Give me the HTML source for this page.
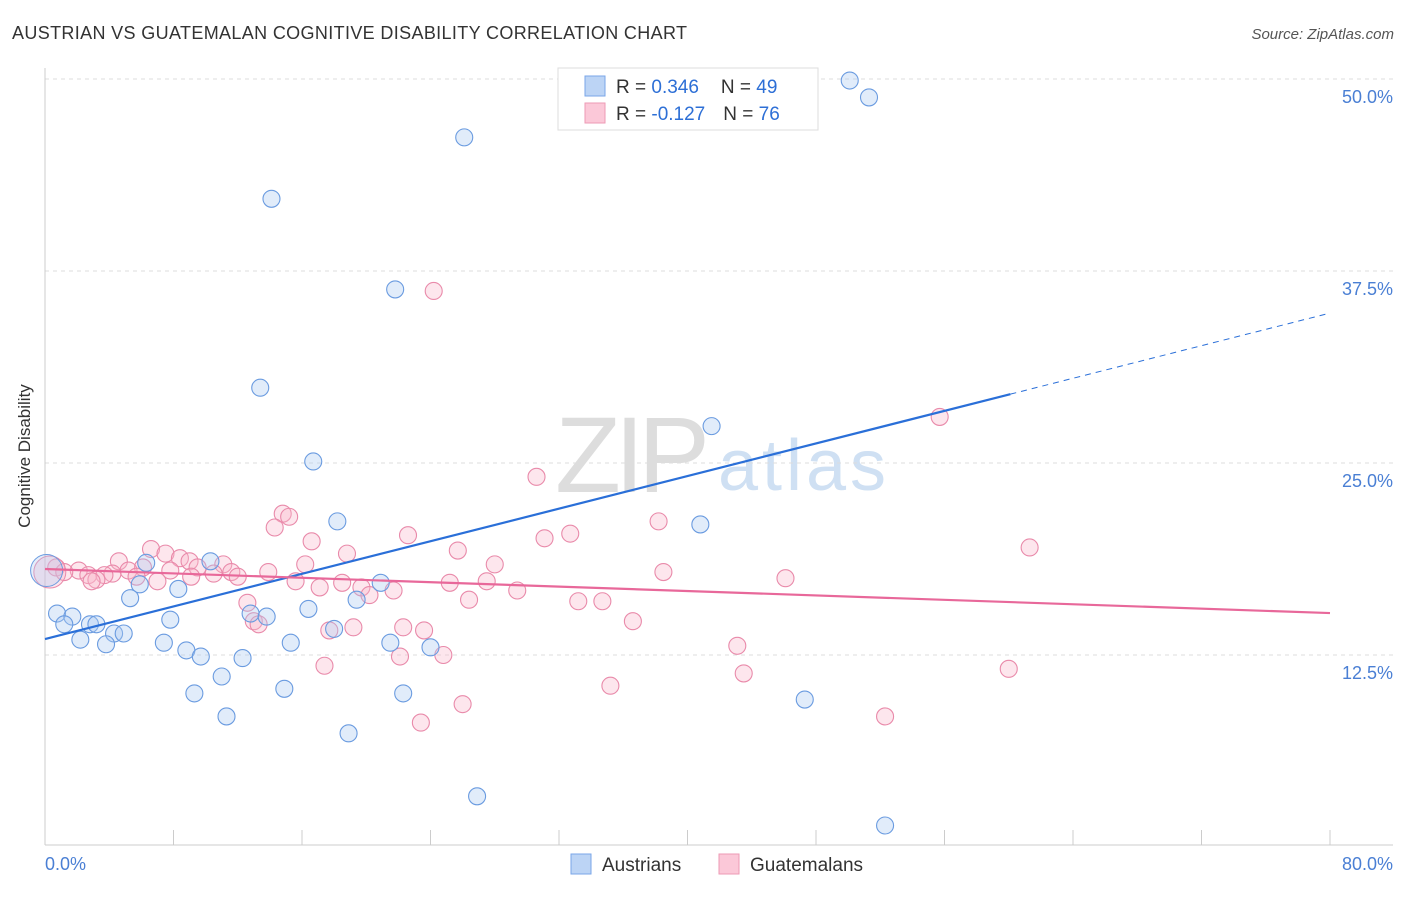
<!DOCTYPE html>
<html><head><meta charset="utf-8"><style>
body{margin:0;background:#fff;font-family:"Liberation Sans",sans-serif}
svg text{font-family:"Liberation Sans",sans-serif}
</style></head><body>
<svg width="1406" height="892" xmlns="http://www.w3.org/2000/svg">
<text x="12" y="39" font-size="18" fill="#333" textLength="675">AUSTRIAN VS GUATEMALAN COGNITIVE DISABILITY CORRELATION CHART</text>
<text x="1394" y="39" font-size="15" fill="#555" font-style="italic" text-anchor="end">Source: ZipAtlas.com</text>
<text x="555" y="492" font-size="108" fill="#ddd" textLength="155" font-family="Liberation Serif">ZIP</text>
<text x="718" y="490" font-size="72" fill="#cfe0f3" textLength="168">atlas</text>
<g id="grid"></g>
<line x1="45" y1="68" x2="45" y2="845" stroke="#ccc"/>
<line x1="45" y1="845" x2="1393" y2="845" stroke="#ccc"/>
<text x="30" y="456" font-size="17" fill="#333" text-anchor="middle" transform="rotate(-90 30 456)">Cognitive Disability</text>
<text x="45" y="870" font-size="18" fill="#4a7fd4">0.0%</text>
<text x="1393" y="870" font-size="18" fill="#4a7fd4" text-anchor="end">80.0%</text>
<g id="lines"></g>
<g id="pts"></g>
<g>
<rect x="558" y="68" width="260" height="62" fill="#fff" stroke="#ddd"/>
<rect x="585" y="76" width="20" height="20" fill="#bcd4f5" stroke="#7aa6e8"/>
<rect x="585" y="103" width="20" height="20" fill="#fbc8d8" stroke="#ee9ab5"/>
<text x="616" y="93" font-size="19" fill="#333">R = <tspan fill="#2d6fd6">0.346</tspan><tspan dx="22">N = </tspan><tspan fill="#2d6fd6">49</tspan></text>
<text x="616" y="120" font-size="19" fill="#333">R = <tspan fill="#2d6fd6">-0.127</tspan><tspan dx="18">N = </tspan><tspan fill="#2d6fd6">76</tspan></text>
</g>
<g>
<rect x="571" y="854" width="20" height="20" fill="#bcd4f5" stroke="#7aa6e8"/>
<text x="602" y="871" font-size="19" fill="#333">Austrians</text>
<rect x="719" y="854" width="20" height="20" fill="#fbc8d8" stroke="#ee9ab5"/>
<text x="750" y="871" font-size="19" fill="#333">Guatemalans</text>
</g>
</svg>
<script>
const yTicks=[12.5,25,37.5,50];
const yTickLabels=["12.5%","25.0%","37.5%","50.0%"];
const xTickVals=[8,16,24,32,40,48,56,64,72,80];
const austX=[50.1,51.3,26.1,14.1,21.8,13.4,41.5,16.7,18.2,40.8,6.3,10.3,5.9,8.3,20.9,5.3,19.4,0.75,1.7,12.8,13.8,16.4,7.8,1.2,2.8,3.2,4.3,4.9,2.2,3.8,7.4,15.3,18.0,21.5,24.0,8.8,9.7,12.3,11.0,9.3,14.9,22.3,47.3,11.3,18.9,26.9,52.3];
const austY=[49.9,48.8,46.2,42.2,36.3,29.9,27.4,25.1,21.2,21.0,18.5,18.6,17.1,16.8,17.2,16.2,16.1,15.2,15.0,15.2,15.0,15.5,14.8,14.5,14.5,14.5,13.9,13.9,13.5,13.2,13.3,13.3,14.2,13.3,13.0,12.8,12.4,12.3,11.1,10.0,10.3,10.0,9.6,8.5,7.4,3.3,1.4];
const guatX=[24.2,55.7,30.6,14.8,15.2,38.2,14.3,32.7,22.6,31.1,16.6,61.3,6.6,25.7,18.8,7.5,8.4,4.6,9.0,16.2,28.0,11.1,0.7,6.1,9.5,2.1,5.2,7.8,1.2,4.2,11.6,13.9,38.5,10.5,2.7,3.7,12.0,5.7,9.1,3.2,46.1,2.9,7.0,15.6,18.5,25.2,27.5,17.1,19.7,21.7,29.4,20.2,12.6,26.4,33.2,34.7,13.0,13.3,36.6,22.3,19.2,17.7,23.6,43.1,24.8,22.1,17.4,43.5,60.0,35.2,26.0,52.3,23.4];
const guatY=[36.2,28.0,24.1,21.7,21.5,21.2,20.8,20.4,20.3,20.1,19.9,19.5,19.4,19.3,19.1,19.1,18.8,18.6,18.6,18.4,18.4,18.4,18.2,18.2,18.2,18.0,18.0,18.0,17.9,17.8,17.9,17.9,17.9,17.8,17.7,17.7,17.6,17.6,17.6,17.4,17.5,17.3,17.3,17.3,17.2,17.2,17.3,16.9,16.9,16.7,16.7,16.4,15.9,16.1,16.0,16.0,14.7,14.5,14.7,14.3,14.3,14.1,14.1,13.1,12.5,12.4,11.8,11.3,11.6,10.5,9.3,8.5,8.1];
const blueTrend=[13.54,34.76];
const blueSolidEnd=60.1;
const pinkTrend=[18.1,15.23];
const NS="http://www.w3.org/2000/svg";
const X=v=>45+v/80*1285, Y=v=>847-v/12.5*192;
function mk(t,a,p){const e=document.createElementNS(NS,t);for(const k in a)e.setAttribute(k,a[k]);p.appendChild(e);return e;}
const grid=document.getElementById('grid');
yTicks.forEach((t,i)=>{
 const l=mk('line',{x1:45,x2:1393,y1:Y(t),y2:Y(t),stroke:'#ddd','stroke-dasharray':'4,4'},grid);
 
 
 const tx=mk('text',{x:1393,y:Y(t)+24,'font-size':18,fill:'#4a7fd4','text-anchor':'end'},grid);
 tx.textContent=yTickLabels[i];
 
 
});
xTickVals.forEach(v=>{
 const l=mk('line',{x1:X(v),x2:X(v),y1:830,y2:845,stroke:'#ccc'},grid);
 
 
});
const pts=document.getElementById('pts');
function dots(xs,ys,fill,stroke,name){xs.forEach((x,i)=>{
 const c=mk('circle',{cx:X(x),cy:Y(ys[i]),r:8.5,fill:fill,stroke:stroke,'stroke-width':1.1,'fill-opacity':0.35},pts);
 
 
});}
dots(guatX,guatY,'#f9b8cc','#e98aaa','guatemalan-point');
dots(austX,austY,'#a9c8f2','#6a9be0','austrian-point');
let b=mk('circle',{cx:X(0.3),cy:Y(17.9),r:16,fill:'#f9b8cc','fill-opacity':0.35,stroke:'#e98aaa'},pts);


b=mk('circle',{cx:X(0.1),cy:Y(18.0),r:16,fill:'#a9c8f2','fill-opacity':0.3,stroke:'#6a9be0'},pts);


const bAt=v=>blueTrend[0]+(blueTrend[1]-blueTrend[0])*v/80;
let l=mk('line',{x1:X(0),y1:Y(blueTrend[0]),x2:X(blueSolidEnd),y2:Y(bAt(blueSolidEnd)),stroke:'#2a6fd8','stroke-width':2.2},pts);


l=mk('line',{x1:X(blueSolidEnd),y1:Y(bAt(blueSolidEnd)),x2:X(80),y2:Y(blueTrend[1]),stroke:'#2a6fd8','stroke-width':1,'stroke-dasharray':'6,5'},pts);


l=mk('line',{x1:X(0),y1:Y(pinkTrend[0]),x2:X(80),y2:Y(pinkTrend[1]),stroke:'#e8689a','stroke-width':2.2},pts);


</script>
</body></html>
